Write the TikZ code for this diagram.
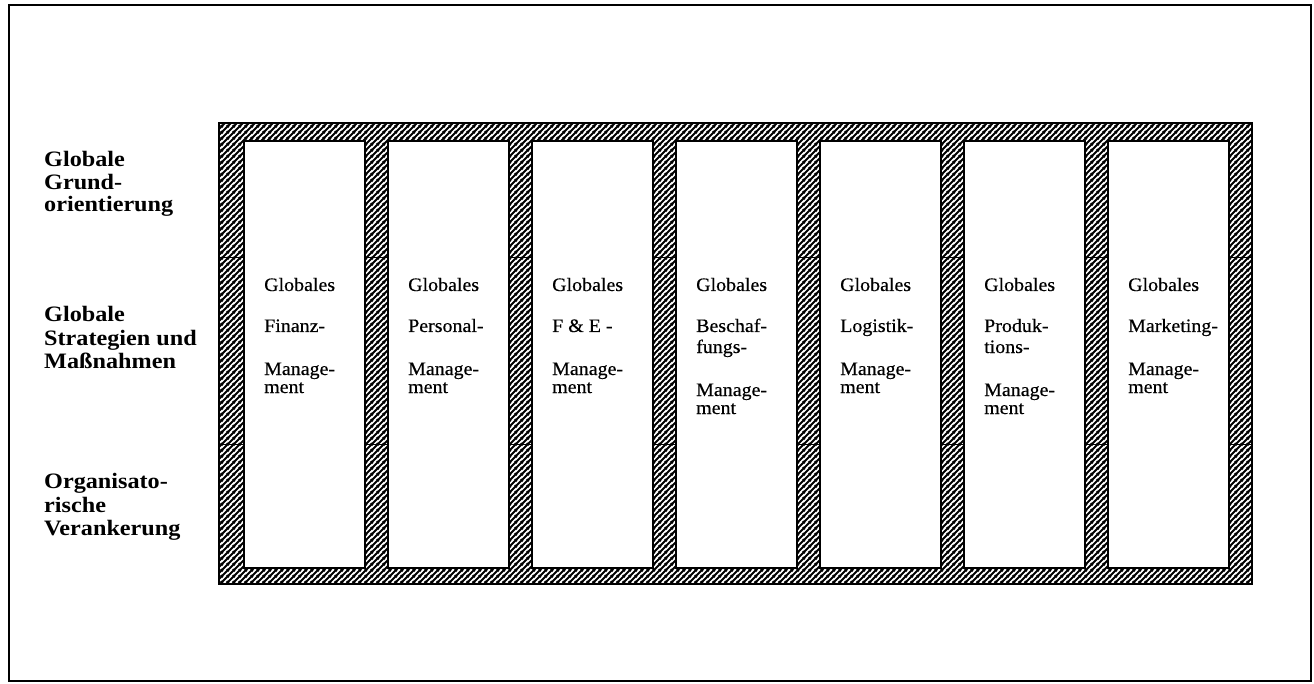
\documentclass[tikz,border=0pt]{standalone}
\usepackage{fontspec}
\setmainfont{Liberation Serif}[FakeStretch=1.1]
\newfontfamily\boxfont{Liberation Serif}[FakeStretch=1.05,FakeBold=0.4]
\usetikzlibrary{patterns.meta}
\tikzdeclarepattern{
  name=hatchfill,
  type=uncolored,
  bottom left={(0pt,0pt)},
  top right={(6pt,6pt)},
  tile size={(6pt,6pt)},
  code={
    \draw[line width=2.3pt] (-1pt,-1pt) -- (7pt,7pt);
    \draw[line width=2.3pt] (-1pt,5pt) -- (1pt,7pt);
    \draw[line width=2.3pt] (5pt,-1pt) -- (7pt,1pt);
  }
}
\begin{document}
\begin{tikzpicture}[x=1pt,y=-1pt,
  boxtxt/.style={anchor=base west, inner sep=0pt, font=\boxfont\fontsize{19}{19}\selectfont},
  lbl/.style={anchor=base west, inner sep=0pt, font=\bfseries\fontsize{22}{22}\selectfont},
  colbox/.style={draw, line width=1.8pt, fill=white, minimum width=121pt, minimum height=427pt, inner sep=0pt, anchor=north west},
  divider/.style={line width=0.9pt}]
\useasboundingbox (0,0) rectangle (1314,684);
% page border
\draw[line width=1.3pt] (9,5) rectangle (1311,681);
% hatched frame
\fill[pattern=hatchfill] (219,123) rectangle (1252,584);
\draw[divider] (219,257) -- (1252,257);
\draw[divider] (219,444) -- (1252,444);
\draw[line width=2.2pt] (219,123) rectangle (1252,584);
% columns
\node[colbox] (c1) at (243,140) {};
\node[colbox] (c2) at (387,140) {};
\node[colbox] (c3) at (531,140) {};
\node[colbox] (c4) at (675,140) {};
\node[colbox] (c5) at (819,140) {};
\node[colbox] (c6) at (963,140) {};
\node[colbox] (c7) at (1107,140) {};
% column texts
\node[boxtxt] (t1a) at (264,291) {Globales};
\node[boxtxt] (t1b) at (264,332) {Finanz-};
\node[boxtxt] (t1c) at (264,375) {Manage-};
\node[boxtxt] (t1d) at (264,393) {ment};
\node[boxtxt] (t2a) at (408,291) {Globales};
\node[boxtxt] (t2b) at (408,332) {Personal-};
\node[boxtxt] (t2c) at (408,375) {Manage-};
\node[boxtxt] (t2d) at (408,393) {ment};
\node[boxtxt] (t3a) at (552,291) {Globales};
\node[boxtxt] (t3b) at (552,332) {F \& E -};
\node[boxtxt] (t3c) at (552,375) {Manage-};
\node[boxtxt] (t3d) at (552,393) {ment};
\node[boxtxt] (t4a) at (696,291) {Globales};
\node[boxtxt] (t4b) at (696,332) {Beschaf-};
\node[boxtxt] (t4c) at (696,353) {fungs-};
\node[boxtxt] (t4d) at (696,396) {Manage-};
\node[boxtxt] (t4e) at (696,414) {ment};
\node[boxtxt] (t5a) at (840,291) {Globales};
\node[boxtxt] (t5b) at (840,332) {Logistik-};
\node[boxtxt] (t5c) at (840,375) {Manage-};
\node[boxtxt] (t5d) at (840,393) {ment};
\node[boxtxt] (t6a) at (984,291) {Globales};
\node[boxtxt] (t6b) at (984,332) {Produk-};
\node[boxtxt] (t6c) at (984,353) {tions-};
\node[boxtxt] (t6d) at (984,396) {Manage-};
\node[boxtxt] (t6e) at (984,414) {ment};
\node[boxtxt] (t7a) at (1128,291) {Globales};
\node[boxtxt] (t7b) at (1128,332) {Marketing-};
\node[boxtxt] (t7c) at (1128,375) {Manage-};
\node[boxtxt] (t7d) at (1128,393) {ment};
% row labels
\node[lbl] (l1a) at (44,167) {Globale};
\node[lbl] (l1b) at (44,190) {Grund-};
\node[lbl] (l1c) at (44,212) {orientierung};
\node[lbl] (l2a) at (44,322) {Globale};
\node[lbl] (l2b) at (44,345) {Strategien und};
\node[lbl] (l2c) at (44,368) {Maßnahmen};
\node[lbl] (l3a) at (44,488) {Organisato-};
\node[lbl] (l3b) at (44,512) {rische};
\node[lbl] (l3c) at (44,535) {Verankerung};
\end{tikzpicture}
\end{document}
